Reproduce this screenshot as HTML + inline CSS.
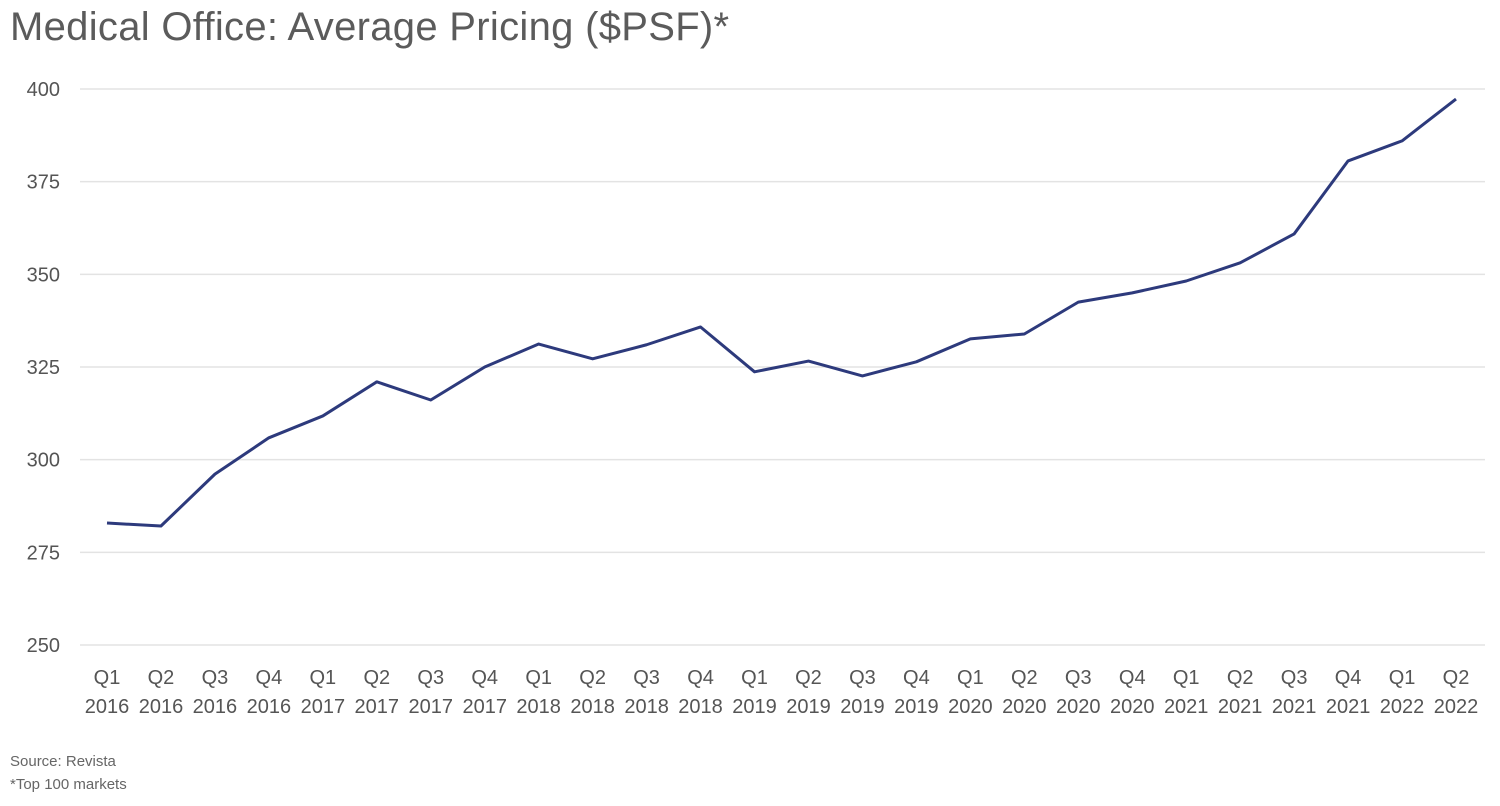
<!DOCTYPE html>
<html><head><meta charset="utf-8"><style>
body{margin:0;background:#fff;width:1500px;height:801px;overflow:hidden;font-family:"Liberation Sans",sans-serif;}
</style></head><body>
<svg id="chart" width="1500" height="801">
<text x="10" y="40" font-size="40" fill="#5b5b5b" letter-spacing="0.3">Medical Office: Average Pricing ($PSF)*</text>
<g id="grid"></g><g id="yt"></g><g id="xt"></g><g id="ln"></g>
<text x="10" y="766" font-size="15" fill="#666">Source: Revista</text>
<text x="10" y="789" font-size="15" fill="#666">*Top 100 markets</text>
</svg>
<script>
const quarters=["Q1","Q2","Q3","Q4","Q1","Q2","Q3","Q4","Q1","Q2","Q3","Q4","Q1","Q2","Q3","Q4","Q1","Q2","Q3","Q4","Q1","Q2","Q3","Q4","Q1","Q2"];
const years=["2016","2016","2016","2016","2017","2017","2017","2017","2018","2018","2018","2018","2019","2019","2019","2019","2020","2020","2020","2020","2021","2021","2021","2021","2022","2022"];
const prices=[282.9,282.1,296.1,305.9,311.8,321,316.1,325,331.2,327.2,331,335.8,323.7,326.6,322.6,326.4,332.6,333.9,342.5,345,348.2,353.1,360.9,380.6,386,397.3];
const yTicks=[250,275,300,325,350,375,400];
const NS="http://www.w3.org/2000/svg";
const y=v=>645-(v-250)*(645-89)/150;
const x=i=>107+i*(1456-107)/(prices.length-1);
function mk(t,a,p){const e=document.createElementNS(NS,t);for(const k in a)e.setAttribute(k,a[k]);p.appendChild(e);return e;}
const grid=document.getElementById('grid'),yt=document.getElementById('yt'),xt=document.getElementById('xt'),ln=document.getElementById('ln');
yTicks.forEach(v=>{
 const l=mk('line',{x1:80,x2:1485,y1:y(v),y2:y(v),stroke:'#e3e3e3','stroke-width':1.5},grid);
 
 
 const t=mk('text',{x:60,y:y(v)+7,'font-size':20,fill:'#555','text-anchor':'end'},yt);t.textContent=v;
 
 
});
quarters.forEach((q,i)=>{
 const t=mk('text',{x:x(i),y:684,'font-size':20,fill:'#555','text-anchor':'middle'},xt);t.textContent=q;
 
 
 const t2=mk('text',{x:x(i),y:713,'font-size':20,fill:'#555','text-anchor':'middle'},xt);t2.textContent=years[i];
 
 
});
const p=mk('polyline',{points:prices.map((v,i)=>x(i)+','+y(v)).join(' '),fill:'none',stroke:'#2d3a7c','stroke-width':3,'stroke-linejoin':'round'},ln);


</script>
</body></html>
